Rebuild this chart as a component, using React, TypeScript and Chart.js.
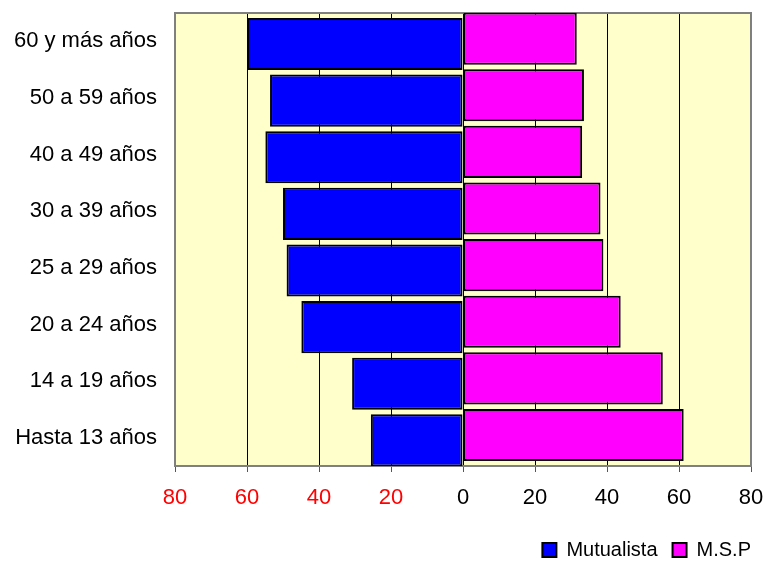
import React, { useEffect, useRef } from "react";
import { Chart, registerables } from "chart.js";

Chart.register(...registerables);

const categories = [
  "60 y más años",
  "50 a 59 años",
  "40 a 49 años",
  "30 a 39 años",
  "25 a 29 años",
  "20 a 24 años",
  "14 a 19 años",
  "Hasta 13 años",
];
const mutualista = [60.0, 53.6, 54.9, 50.0, 49.0, 44.9, 30.8, 25.6];
const msp = [31.6, 33.6, 33.1, 38.2, 39.0, 43.8, 55.5, 61.3];
const xTicks = [-80, -60, -40, -20, 0, 20, 40, 60, 80];

const FONT = "'Liberation Sans', Arial, sans-serif";

const plotFrame = {
  id: "plotFrame",
  beforeDraw(chart: any) {
    const { ctx, chartArea: a } = chart;
    ctx.save();
    ctx.fillStyle = "#FFFFCC";
    ctx.fillRect(a.left, a.top, a.right - a.left, a.bottom - a.top);
    ctx.restore();
  },
  beforeDatasetsDraw(chart: any) {
    const { ctx, chartArea: a } = chart;
    ctx.save();
    ctx.strokeStyle = "#808080";
    ctx.lineWidth = 2;
    ctx.strokeRect(a.left, a.top, a.right - a.left, a.bottom - a.top);
    ctx.restore();
  },
};

export default function App() {
  const ref = useRef<HTMLCanvasElement>(null);
  useEffect(() => {
    if (!ref.current) return;
    const chart = new Chart(ref.current, {
      type: "bar",
      data: {
        labels: categories,
        datasets: [
          {
            label: "M.S.P",
            data: msp,
            backgroundColor: "#FF00FF",
            borderColor: "#000000",
            borderWidth: 2,
            borderSkipped: false,
          },
          {
            label: "Mutualista",
            data: mutualista.map((v) => -v),
            backgroundColor: "#0000FF",
            borderColor: "#000000",
            borderWidth: 2,
            borderSkipped: false,
          },
        ],
      },
      options: {
        indexAxis: "y",
        animation: false,
        responsive: true,
        maintainAspectRatio: false,
        datasets: {
          bar: {
            categoryPercentage: 0.19,
            barPercentage: 9.7,
          },
        },
        layout: { padding: { top: 13, right: 0, left: 0, bottom: 0 } },
        scales: {
          x: {
            min: -80,
            max: 80,
            afterBuildTicks: (scale: any) => {
              scale.ticks = xTicks.map((v) => ({ value: v }));
            },
            afterFit: (scale: any) => {
              scale.height = 59;
              scale.paddingLeft = 0;
              scale.paddingRight = 15;
            },
            border: { display: false },
            grid: {
              color: (c: any) =>
                c.tick && (c.tick.value === -80 || c.tick.value === 80)
                  ? "rgba(0,0,0,0)"
                  : "#000000",
              lineWidth: 1,
              tickLength: 6,
              tickColor: "#555555",
            },
            ticks: {
              padding: 13,
              maxRotation: 0,
              autoSkip: false,
              font: { family: FONT, size: 22 },
              color: (c: any) => (c.tick && c.tick.value < 0 ? "#FF0000" : "#000000"),
              callback: (v: any) => String(Math.abs(Number(v))),
            },
          },
          y: {
            afterFit: (scale: any) => {
              scale.width = 175;
              scale.paddingTop = 0;
              scale.paddingBottom = 0;
            },
            border: { display: false },
            grid: {
              display: true,
              drawOnChartArea: false,
              drawTicks: true,
              tickLength: 18,
              color: "rgba(0,0,0,0)",
              tickColor: "rgba(0,0,0,0)",
            },
            ticks: {
              padding: 0,
              font: { family: FONT, size: 22 },
              color: "#000000",
            },
          },
        },
        plugins: {
          legend: {
            position: "bottom",
            align: "end",
            reverse: true,
            labels: {
              boxWidth: 14,
              boxHeight: 14,
              padding: 15,
              color: "#000000",
              font: { family: FONT, size: 20 },
            },
          },
          tooltip: { enabled: false },
        },
      },
      plugins: [plotFrame],
    });
    return () => chart.destroy();
  }, []);
  return (
    <div style={{ position: "absolute", left: 0, top: 0, width: 766, height: 570, background: "#fff" }}>
      <canvas ref={ref} />
    </div>
  );
}
